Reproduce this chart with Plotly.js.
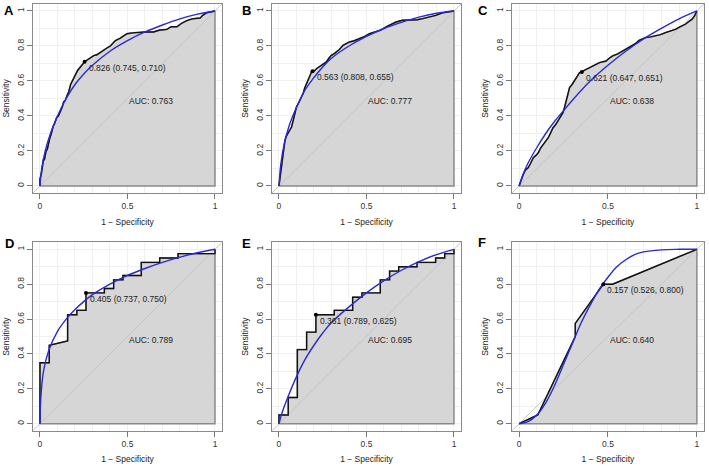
<!DOCTYPE html>
<html>
<head>
<meta charset="utf-8">
<script src="https://cdn.plot.ly/plotly-3.0.1.min.js"></script>
<style>
  html, body { margin: 0; padding: 0; background: #fff; }
  #roc-panels { width: 709px; height: 468px; }
</style>
</head>
<body>
<div id="roc-panels"></div>
<script>
// panel letters and the AUC of each model
var panel_labels = ['A', 'B', 'C', 'D', 'E', 'F'];
var auc_values = [0.763, 0.777, 0.638, 0.789, 0.695, 0.640];

// best threshold, its specificity and sensitivity
var best_thresholds = [0.826, 0.563, 0.621, 0.405, 0.361, 0.157];
var best_specificity = [0.745, 0.808, 0.647, 0.737, 0.789, 0.526];
var best_sensitivity = [0.710, 0.655, 0.651, 0.750, 0.625, 0.800];

// empirical ROC curves (1 - specificity, sensitivity)
var roc_a_x = [0, 0, 0.008, 0.012, 0.02, 0.025, 0.035, 0.042, 0.05, 0.055, 0.065, 0.075, 0.085, 0.095, 0.105, 0.118, 0.127, 0.135, 0.145, 0.156, 0.165, 0.175, 0.185, 0.195, 0.203, 0.215, 0.231, 0.245, 0.255, 0.27, 0.29, 0.307, 0.325, 0.345, 0.37, 0.385, 0.402, 0.43, 0.459, 0.48, 0.497, 0.53, 0.573, 0.6, 0.649, 0.68, 0.725, 0.75, 0.782, 0.81, 0.839, 0.87, 0.915, 0.93, 0.953, 0.98, 1];
var roc_a_y = [0, 0.04, 0.07, 0.11, 0.15, 0.15, 0.2, 0.21, 0.25, 0.27, 0.3, 0.34, 0.36, 0.39, 0.4, 0.43, 0.45, 0.48, 0.49, 0.52, 0.54, 0.58, 0.6, 0.62, 0.64, 0.66, 0.68, 0.7, 0.71, 0.72, 0.735, 0.745, 0.75, 0.765, 0.78, 0.79, 0.8, 0.83, 0.845, 0.86, 0.87, 0.875, 0.88, 0.88, 0.88, 0.89, 0.895, 0.91, 0.91, 0.93, 0.945, 0.955, 0.96, 0.975, 0.99, 0.995, 1];
var roc_b_x = [0, 0.005, 0.009, 0.014, 0.019, 0.024, 0.028, 0.034, 0.04, 0.053, 0.062, 0.072, 0.085, 0.093, 0.1, 0.11, 0.119, 0.128, 0.138, 0.147, 0.157, 0.167, 0.176, 0.186, 0.192, 0.205, 0.214, 0.228, 0.242, 0.256, 0.271, 0.285, 0.299, 0.314, 0.328, 0.345, 0.366, 0.385, 0.403, 0.43, 0.46, 0.49, 0.517, 0.555, 0.58, 0.612, 0.64, 0.669, 0.706, 0.73, 0.763, 0.79, 0.82, 0.86, 0.896, 0.934, 0.96, 1];
var roc_b_y = [0, 0.04, 0.07, 0.11, 0.147, 0.19, 0.223, 0.26, 0.28, 0.309, 0.32, 0.337, 0.394, 0.42, 0.451, 0.47, 0.49, 0.5, 0.528, 0.56, 0.585, 0.613, 0.63, 0.651, 0.655, 0.66, 0.67, 0.68, 0.69, 0.7, 0.709, 0.73, 0.747, 0.755, 0.766, 0.78, 0.804, 0.815, 0.823, 0.83, 0.842, 0.855, 0.87, 0.88, 0.89, 0.909, 0.925, 0.937, 0.947, 0.947, 0.947, 0.95, 0.956, 0.965, 0.975, 0.989, 0.995, 1];
var roc_c_x = [0, 0.01, 0.024, 0.035, 0.052, 0.065, 0.08, 0.095, 0.108, 0.12, 0.136, 0.15, 0.164, 0.178, 0.191, 0.205, 0.219, 0.233, 0.247, 0.256, 0.266, 0.275, 0.284, 0.298, 0.312, 0.326, 0.34, 0.353, 0.365, 0.377, 0.395, 0.414, 0.433, 0.452, 0.47, 0.489, 0.507, 0.526, 0.555, 0.582, 0.61, 0.638, 0.656, 0.675, 0.693, 0.712, 0.74, 0.768, 0.795, 0.823, 0.85, 0.879, 0.907, 0.935, 0.955, 0.972, 0.986, 1];
var roc_c_y = [0, 0.03, 0.067, 0.09, 0.105, 0.13, 0.162, 0.175, 0.19, 0.215, 0.238, 0.255, 0.276, 0.305, 0.333, 0.35, 0.371, 0.395, 0.419, 0.45, 0.486, 0.525, 0.562, 0.58, 0.6, 0.625, 0.648, 0.651, 0.66, 0.667, 0.675, 0.686, 0.695, 0.705, 0.71, 0.714, 0.73, 0.743, 0.755, 0.771, 0.785, 0.8, 0.815, 0.832, 0.84, 0.848, 0.852, 0.857, 0.865, 0.876, 0.885, 0.895, 0.91, 0.924, 0.94, 0.952, 0.97, 1];
var roc_d_x = [0, 0, 0.053, 0.053, 0.158, 0.158, 0.211, 0.211, 0.263, 0.263, 0.368, 0.368, 0.421, 0.421, 0.474, 0.474, 0.579, 0.579, 0.684, 0.684, 0.789, 0.789, 1, 1];
var roc_d_y = [0, 0.35, 0.35, 0.45, 0.475, 0.625, 0.625, 0.65, 0.65, 0.75, 0.75, 0.775, 0.775, 0.825, 0.825, 0.85, 0.85, 0.925, 0.925, 0.95, 0.95, 0.975, 0.975, 1];
var roc_e_x = [0, 0, 0.053, 0.053, 0.105, 0.105, 0.158, 0.158, 0.211, 0.211, 0.316, 0.316, 0.421, 0.421, 0.474, 0.474, 0.579, 0.579, 0.632, 0.632, 0.684, 0.684, 0.789, 0.789, 0.895, 0.895, 0.947, 0.947, 1, 1];
var roc_e_y = [0, 0.05, 0.05, 0.15, 0.15, 0.425, 0.425, 0.525, 0.525, 0.625, 0.625, 0.65, 0.65, 0.725, 0.725, 0.75, 0.75, 0.825, 0.825, 0.875, 0.875, 0.9, 0.9, 0.925, 0.925, 0.95, 0.95, 0.975, 0.975, 1];
var roc_f_x = [0, 0.105, 0.316, 0.316, 0.474, 0.526, 1];
var roc_f_y = [0, 0.05, 0.5, 0.575, 0.8, 0.8, 1];

// smoothed (binormal) curves
var smooth_a_x = [0, 0.01, 0.03, 0.06, 0.1, 0.15, 0.2, 0.25, 0.3, 0.4, 0.5, 0.6, 0.7, 0.8, 0.9, 1];
var smooth_a_y = [0, 0.1, 0.2, 0.3, 0.4, 0.5, 0.58, 0.64, 0.69, 0.77, 0.83, 0.88, 0.92, 0.955, 0.982, 1];
var smooth_b_x = [0, 0.01, 0.03, 0.06, 0.1, 0.15, 0.2, 0.25, 0.3, 0.4, 0.5, 0.6, 0.7, 0.8, 0.9, 1];
var smooth_b_y = [0, 0.12, 0.24, 0.35, 0.45, 0.55, 0.62, 0.68, 0.73, 0.8, 0.855, 0.9, 0.935, 0.965, 0.987, 1];
var smooth_c_x = [0, 0.02, 0.05, 0.1, 0.15, 0.2, 0.25, 0.3, 0.4, 0.5, 0.6, 0.7, 0.8, 0.9, 1];
var smooth_c_y = [0, 0.06, 0.13, 0.22, 0.3, 0.37, 0.43, 0.49, 0.6, 0.69, 0.77, 0.84, 0.9, 0.955, 1];
var smooth_d_x = [0, 0.005, 0.02, 0.05, 0.1, 0.15, 0.2, 0.25, 0.3, 0.4, 0.5, 0.6, 0.7, 0.8, 0.9, 1];
var smooth_d_y = [0, 0.15, 0.3, 0.42, 0.53, 0.6, 0.655, 0.7, 0.74, 0.8, 0.85, 0.89, 0.925, 0.955, 0.98, 1];
var smooth_e_x = [0, 0.02, 0.05, 0.1, 0.15, 0.2, 0.25, 0.3, 0.4, 0.5, 0.6, 0.7, 0.8, 0.9, 1];
var smooth_e_y = [0, 0.07, 0.15, 0.27, 0.37, 0.45, 0.52, 0.58, 0.67, 0.75, 0.82, 0.88, 0.93, 0.97, 1];
var smooth_f_x = [0, 0.05, 0.1, 0.15, 0.2, 0.25, 0.3, 0.35, 0.4, 0.45, 0.5, 0.55, 0.6, 0.65, 0.7, 0.8, 0.9, 1];
var smooth_f_y = [0, 0.012, 0.05, 0.12, 0.22, 0.34, 0.46, 0.58, 0.68, 0.77, 0.84, 0.9, 0.94, 0.97, 0.985, 0.997, 1, 1];

var axis_range = [-0.04, 1.04];

var roc_x = [roc_a_x, roc_b_x, roc_c_x, roc_d_x, roc_e_x, roc_f_x];
var roc_y = [roc_a_y, roc_b_y, roc_c_y, roc_d_y, roc_e_y, roc_f_y];
var smooth_x = [smooth_a_x, smooth_b_x, smooth_c_x, smooth_d_x, smooth_e_x, smooth_f_x];
var smooth_y = [smooth_a_y, smooth_b_y, smooth_c_y, smooth_d_y, smooth_e_y, smooth_f_y];

// subplot boxes (paper fractions)
var col_domains = [[0.0465, 0.3131], [0.3836, 0.6502], [0.7221, 0.9929]];
var row_domains = [[0.5876, 0.9915], [0.0797, 0.4822]];
var letter_pos = [[9, 10], [246, 10], [483, 10], [9, 243], [246, 243], [482, 242]];

var font_family = 'Liberation Sans, Arial, sans-serif';
var traces = [];
var annotations = [];
var layout = {
  width: 709,
  height: 468,
  margin: { l: 0, r: 0, t: 0, b: 0 },
  paper_bgcolor: '#ffffff',
  plot_bgcolor: '#ffffff',
  showlegend: false,
  font: { family: font_family, size: 8.5, color: '#333' }
};

for (var i = 0; i < panel_labels.length; i++) {
  var n = i + 1;
  var xa = 'x' + (n === 1 ? '' : n);
  var ya = 'y' + (n === 1 ? '' : n);
  var xkey = 'xaxis' + (n === 1 ? '' : n);
  var ykey = 'yaxis' + (n === 1 ? '' : n);

  // area under the curve, closed along y = 0
  var poly_x = roc_x[i].concat([1, 0]);
  var poly_y = roc_y[i].concat([0, 0]);
  traces.push({
    x: poly_x, y: poly_y, xaxis: xa, yaxis: ya,
    type: 'scatter', mode: 'lines', fill: 'toself',
    fillcolor: '#d6d6d6',
    line: { color: '#8a8a8a', width: 1.5 },
    hoverinfo: 'skip'
  });

  // identity line
  traces.push({
    x: axis_range, y: axis_range, xaxis: xa, yaxis: ya,
    type: 'scatter', mode: 'lines',
    line: { color: '#c4c4c4', width: 1 },
    hoverinfo: 'skip'
  });

  traces.push({
    x: roc_x[i], y: roc_y[i], xaxis: xa, yaxis: ya,
    type: 'scatter', mode: 'lines',
    line: { color: '#111111', width: 1.4 }
  });

  traces.push({
    x: smooth_x[i], y: smooth_y[i], xaxis: xa, yaxis: ya,
    type: 'scatter', mode: 'lines',
    line: { color: '#2a2ad0', width: 1.4, shape: 'spline', smoothing: 1 }
  });

  var px = 1 - best_specificity[i];
  var py = best_sensitivity[i];
  traces.push({
    x: [px], y: [py], xaxis: xa, yaxis: ya,
    type: 'scatter', mode: 'markers',
    marker: { color: '#000', size: 4 }
  });

  annotations.push({
    xref: xa, yref: ya, x: px, y: py,
    text: best_thresholds[i].toFixed(3) + ' (' + best_specificity[i].toFixed(3) + ', ' + best_sensitivity[i].toFixed(3) + ')',
    showarrow: false, xanchor: 'left', yanchor: 'top', xshift: 2, yshift: 1,
    font: { family: font_family, size: 8.5, color: '#222' }
  });
  annotations.push({
    xref: xa, yref: ya, x: 0.5, y: 0.5,
    text: 'AUC: ' + auc_values[i].toFixed(3),
    showarrow: false, xanchor: 'left', yanchor: 'middle', yshift: -3,
    font: { family: font_family, size: 8.5, color: '#222' }
  });
  annotations.push({
    xref: 'paper', yref: 'paper',
    x: letter_pos[i][0] / 709, y: 1 - letter_pos[i][1] / 468,
    text: '<b>' + panel_labels[i] + '</b>',
    showarrow: false, xanchor: 'center', yanchor: 'middle',
    font: { family: font_family, size: 13, color: '#000' }
  });

  var common = {
    range: axis_range,
    tickmode: 'linear', tick0: 0,
    ticks: 'outside', ticklen: 5, tickwidth: 1, tickcolor: '#777',
    showline: true, mirror: true, linecolor: '#8a8a8a', linewidth: 1,
    showgrid: true, gridcolor: '#f0f0f0', gridwidth: 1,
    minor: { dtick: 0.1, tick0: 0, showgrid: true, gridcolor: '#f0f0f0', gridwidth: 1 },
    zeroline: false, automargin: false, fixedrange: true,
    tickfont: { family: font_family, size: 8.5, color: '#333' }
  };

  layout[xkey] = Object.assign({}, common, {
    domain: col_domains[i % 3],
    anchor: ya,
    dtick: 0.5,
    title: { text: '1 \u2212 Specificity', font: { family: font_family, size: 8.5, color: '#222' }, standoff: 8 }
  });
  layout[ykey] = Object.assign({}, common, {
    domain: row_domains[Math.floor(i / 3)],
    anchor: xa,
    dtick: 0.2,
    tickangle: -90,
    title: { text: 'Sensitivity', font: { family: font_family, size: 8.5, color: '#222' }, standoff: 4 }
  });
}

layout.annotations = annotations;

Plotly.newPlot('roc-panels', traces, layout, { displayModeBar: false, staticPlot: true });
</script>
</body>
</html>
